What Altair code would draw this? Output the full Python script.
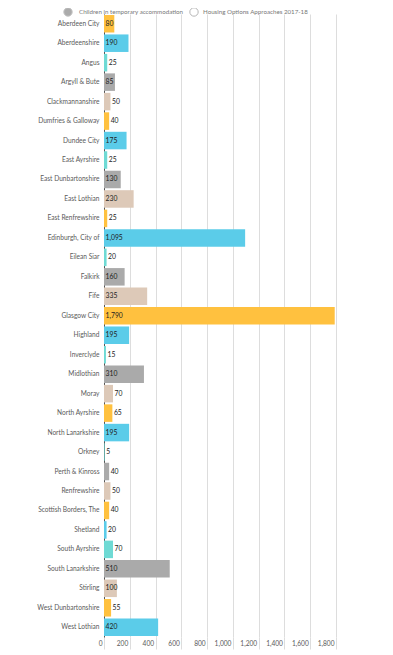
import altair as alt
import pandas as pd

councils = [
    "Aberdeen City", "Aberdeenshire", "Angus", "Argyll & Bute", "Clackmannanshire",
    "Dumfries & Galloway", "Dundee City", "East Ayrshire", "East Dunbartonshire",
    "East Lothian", "East Renfrewshire", "Edinburgh, City of", "Eilean Siar",
    "Falkirk", "Fife", "Glasgow City", "Highland", "Inverclyde", "Midlothian",
    "Moray", "North Ayrshire", "North Lanarkshire", "Orkney", "Perth & Kinross",
    "Renfrewshire", "Scottish Borders, The", "Shetland", "South Ayrshire",
    "South Lanarkshire", "Stirling", "West Dunbartonshire", "West Lothian",
]
children = [80, 190, 25, 85, 50, 40, 175, 25, 130, 230, 25, 1095, 20, 160, 335,
            1790, 195, 15, 310, 70, 65, 195, 5, 40, 50, 40, 20, 70, 510, 100, 55, 420]
palette = ["#FFC13F", "#5BCCE9", "#6FDAD4", "#AAAAAA", "#DDC9B8"]
legend_labels = ["Children in temporary accommodation", "Housing Options Approaches 2017-18"]
x_ticks = [0, 200, 400, 600, 800, 1000, 1200, 1400, 1600, 1800]

df = pd.DataFrame({
    "council": councils,
    "value": children,
    "grp": [str(i % 5) for i in range(len(councils))],
})

FONT = "Lato"
FS = 6.6

y_enc = alt.Y("council:N", sort=None, title=None,
              scale=alt.Scale(paddingInner=0.1, paddingOuter=0.05),
              axis=alt.Axis(ticks=False, domainColor="#555555", labelColor="#5a5a5a",
                            labelFontSize=FS, labelPadding=5, labelFont=FONT))
x_scale = alt.Scale(domain=[0, 1800], nice=False)
x_axis = alt.Axis(values=x_ticks, format=",.0f", grid=True, gridColor="#dddddd",
                  domain=False, tickColor="#dddddd", tickSize=12, labelOverlap=False,
                  labelAlign="right", labelOffset=-2, labelPadding=-8.5,
                  labelColor="#5a5a5a", labelFontSize=FS, labelFont=FONT)

base = alt.Chart(df)

bars = base.mark_bar().encode(
    x=alt.X("value:Q", scale=x_scale, title=None, axis=x_axis),
    y=y_enc,
    color=alt.Color("grp:N", scale=alt.Scale(domain=["0", "1", "2", "3", "4"], range=palette),
                    legend=None),
)

labels = base.transform_calculate(
    lx="datum.value >= 80 ? 0 : datum.value"
).mark_text(align="left", baseline="middle", dx=1.5, fontSize=6.8, font=FONT,
            color="#222222").encode(
    x=alt.X("lx:Q", scale=x_scale, title=None, axis=x_axis),
    y=y_enc,
    text=alt.Text("value:Q", format=","),
)

leg_df = pd.DataFrame({"label": legend_labels})
leg1 = alt.Chart(leg_df).transform_filter(alt.datum.label == legend_labels[0])
leg2 = alt.Chart(leg_df).transform_filter(alt.datum.label == legend_labels[1])

LY = -2
LFS = 6.2
dot1 = leg1.mark_point(shape="circle", filled=True, size=70, color="#888888",
                       stroke="#aaaaaa", strokeWidth=1).encode(
    x=alt.value(-36), y=alt.value(LY))
txt1 = leg1.mark_text(align="left", baseline="middle", fontSize=LFS, font=FONT,
                      color="#777777").encode(
    x=alt.value(-25), y=alt.value(LY), text="label:N")
dot2 = leg2.mark_point(shape="circle", filled=False, size=70, color="#999999",
                       strokeWidth=1).encode(
    x=alt.value(90), y=alt.value(LY))
txt2 = leg2.mark_text(align="left", baseline="middle", fontSize=LFS, font=FONT,
                      color="#777777").encode(
    x=alt.value(99), y=alt.value(LY), text="label:N")

chart = alt.layer(bars, labels, dot1, txt1, dot2, txt2).properties(
    width=232, height=623,
    padding={"left": 96, "top": 6, "right": 10, "bottom": 20},
    autosize=alt.AutoSizeParams(type="none"),
).configure_view(stroke=None)

chart.save("out.html", embed_options={"renderer": "svg", "actions": False})
